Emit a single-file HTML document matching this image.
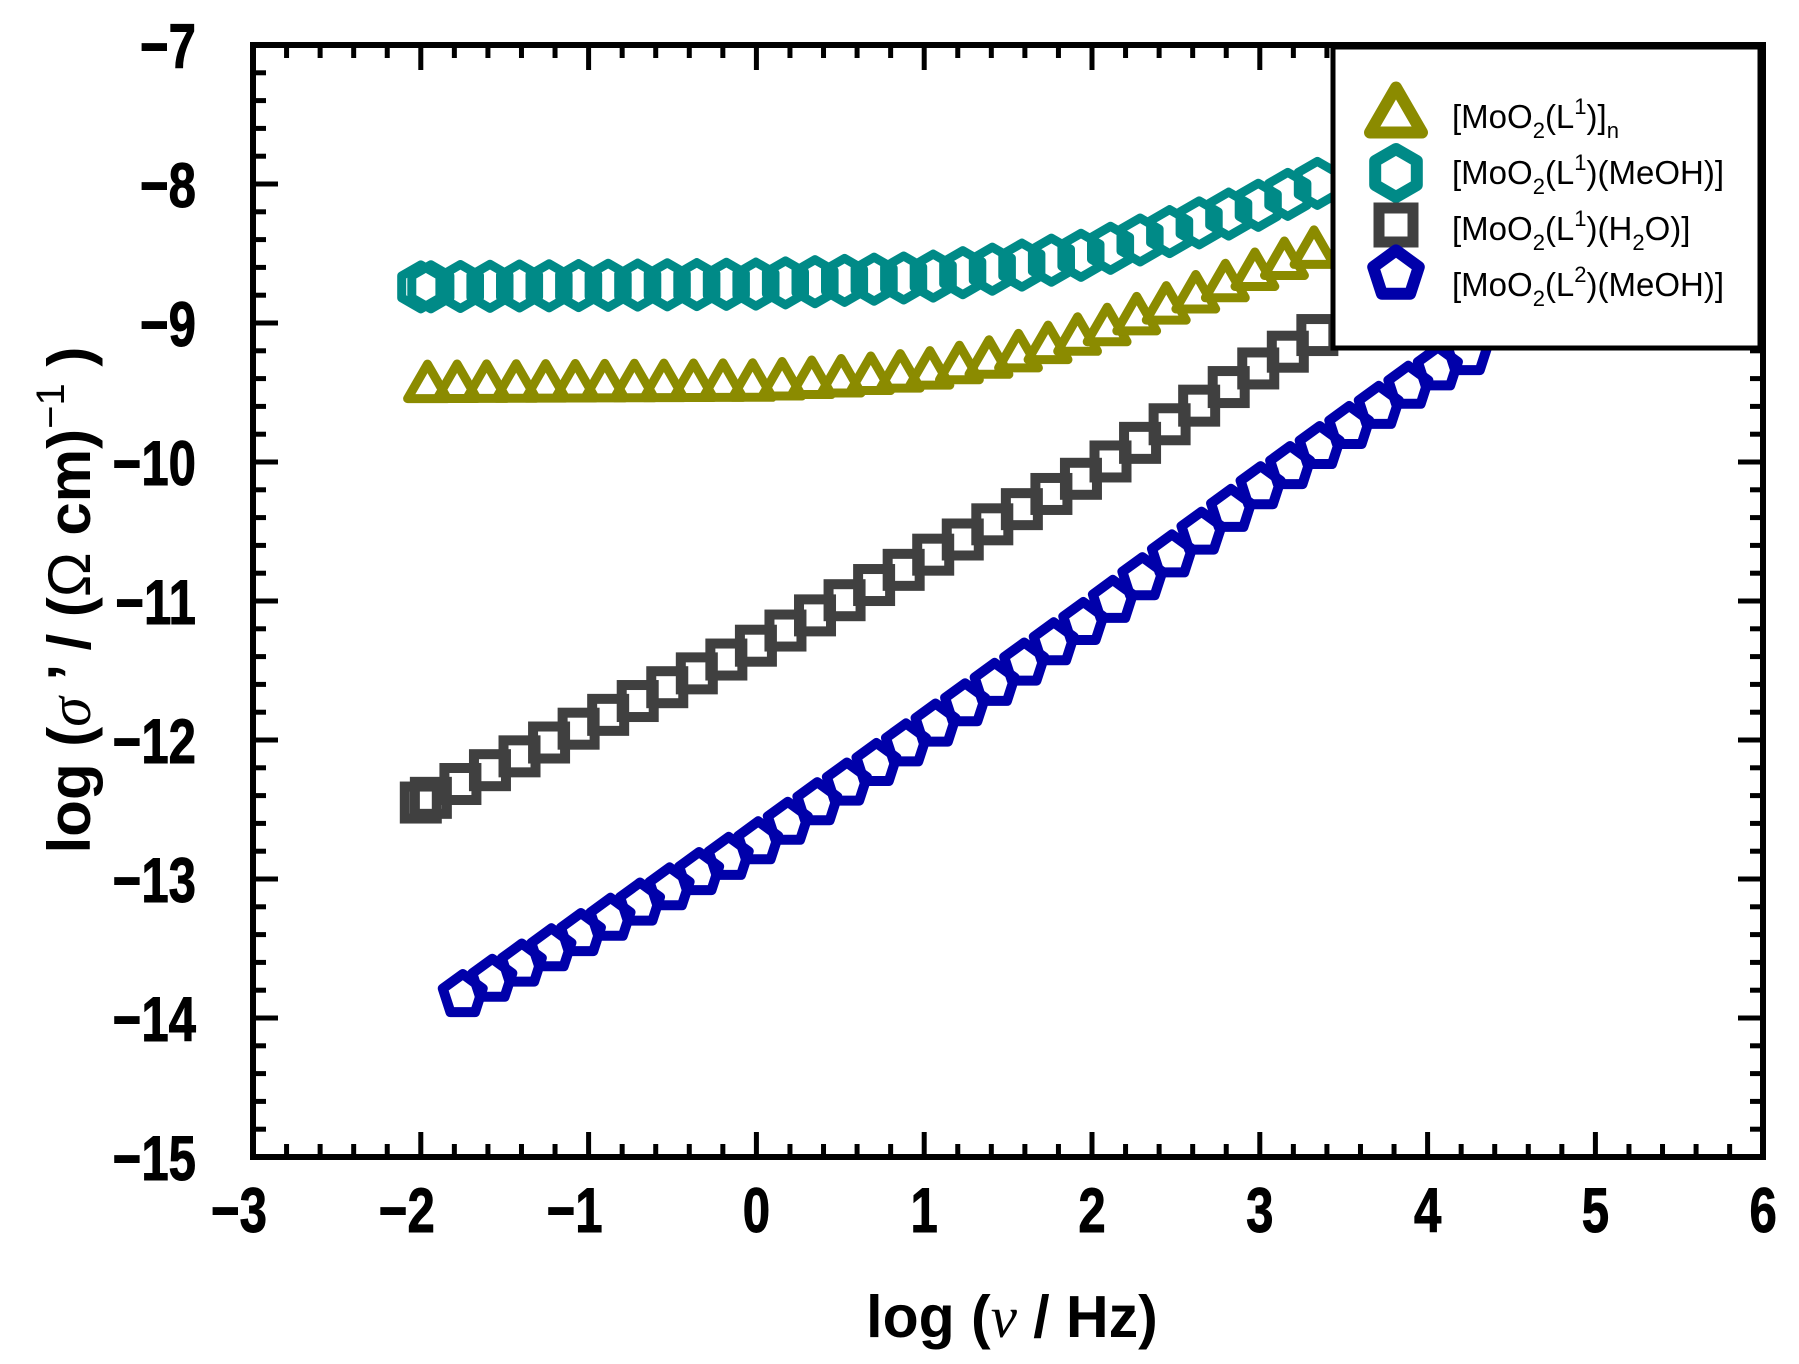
<!DOCTYPE html>
<html><head><meta charset="utf-8">
<style>
html,body{margin:0;padding:0;background:#fff;}
svg{display:block;}
text{font-family:"Liberation Sans",Arial,sans-serif;}
</style></head>
<body>
<svg id="s" width="1799" height="1364" viewBox="0 0 1799 1364" xmlns="http://www.w3.org/2000/svg">
<rect width="1799" height="1364" fill="#fff"/>
<g id="data"></g>
<g id="ticks" stroke="#000" stroke-width="5"></g>
<rect x="253" y="45" width="1510" height="1112" fill="none" stroke="#000" stroke-width="6"/>
<g id="labels" font-size="63" font-weight="bold" fill="#000" stroke="#000" stroke-width="1"></g>
<!-- legend -->
<rect x="1333" y="47" width="427" height="301" fill="#fff" stroke="#000" stroke-width="5"/>
<g id="leg"></g>
<g font-size="33" fill="#000">
<text x="1452" y="128">[MoO<tspan font-size="22" dy="10">2</tspan><tspan dy="-10">(L</tspan><tspan font-size="22" dy="-14">1</tspan><tspan dy="14">)]</tspan><tspan font-size="22" dy="10">n</tspan></text>
<text x="1452" y="184">[MoO<tspan font-size="22" dy="10">2</tspan><tspan dy="-10">(L</tspan><tspan font-size="22" dy="-14">1</tspan><tspan dy="14">)(MeOH)]</tspan></text>
<text x="1452" y="240">[MoO<tspan font-size="22" dy="10">2</tspan><tspan dy="-10">(L</tspan><tspan font-size="22" dy="-14">1</tspan><tspan dy="14">)(H</tspan><tspan font-size="22" dy="10">2</tspan><tspan dy="-10">O)]</tspan></text>
<text x="1452" y="296">[MoO<tspan font-size="22" dy="10">2</tspan><tspan dy="-10">(L</tspan><tspan font-size="22" dy="-14">2</tspan><tspan dy="14">)(MeOH)]</tspan></text>
</g>
<text x="1012" y="1337" font-size="59" font-weight="bold" text-anchor="middle">log (<tspan font-family="Liberation Serif" font-style="italic" font-weight="normal">ν</tspan> / Hz)</text>
<text transform="translate(90,600) rotate(-90)" font-size="60" font-weight="bold" text-anchor="middle">log (<tspan font-family="Liberation Serif" font-style="italic" font-weight="normal">σ</tspan> ’ / (<tspan font-weight="normal">Ω</tspan> cm)<tspan font-size="40" dy="-26" font-weight="normal">−1</tspan><tspan dy="26"> )</tspan></text>
</svg>
<script>
const NS="http://www.w3.org/2000/svg";
const X=v=>253+(v+3)*167.8, Y=v=>45+(-7-v)*139;
function el(p,tag,a){const e=document.createElementNS(NS,tag);for(const k in a)e.setAttribute(k,a[k]);p.appendChild(e);return e;}
const T=document.getElementById('ticks'),L=document.getElementById('labels');
for(let i=0;i<=45;i++){const v=-3+i*0.2,x=X(v),len=(i%5==0)?25:13;
 el(T,'line',{x1:x,y1:1157,x2:x,y2:1157-len});el(T,'line',{x1:x,y1:45,x2:x,y2:45+len});}
for(let i=0;i<=40;i++){const v=-7-i*0.2,y=Y(v),len=(i%5==0)?25:13;
 el(T,'line',{x1:253,y1:y,x2:253+len,y2:y});el(T,'line',{x1:1763,y1:y,x2:1763-len,y2:y});}
for(let v=-3;v<=6;v++){const t=el(L,'text',{transform:`translate(${X(v)+(v<0?14:0)},1232) scale(0.78,1)`,'text-anchor':v<0?'end':'middle'});t.textContent=(v<0?'−':'')+Math.abs(v);}
for(let v=-7;v>=-15;v--){const t=el(L,'text',{transform:`translate(196,${Y(v)+23}) scale(0.78,1)`,'text-anchor':'end'});t.textContent='−'+Math.abs(v);}
function interp(pts,v){for(let i=0;i<pts.length-1;i++){if(v<=pts[i+1][0]){const [a,b]=pts[i],[c,d]=pts[i+1];return b+(d-b)*(v-a)/(c-a);}}return pts[pts.length-1][1];}
function shape(g,type,cx,cy,r,col,sw){
 let pts=[];
 if(type=='sq'){el(g,'rect',{x:cx-r,y:cy-r,width:2*r,height:2*r,fill:'none',stroke:col,'stroke-width':sw});return;}
 let n=type=='tri'?3:type=='hex'?6:5;
 let dy=type=='tri'?r*0.25:(type=='pent'?r*0.1:0);
 for(let k=0;k<n;k++){const a=-Math.PI/2+k*2*Math.PI/n;pts.push((cx+r*Math.cos(a)).toFixed(1)+','+(cy+dy+r*Math.sin(a)).toFixed(1));}
 el(g,'polygon',{points:pts.join(' '),fill:'none',stroke:col,'stroke-width':sw,'stroke-linejoin':'round'});
}
const D=document.getElementById('data');
const series=[
 {t:'sq',c:'#404040',r:16,sw:10,start:-2,end:3.45,dup:true,p:[[-2,-12.45],[0,-11.32],[1,-10.7],[2,-10.08],[3,-9.32],[3.5,-8.98],[4,-8.7]]},
 {t:'pent',c:'#0000aa',r:21,sw:10,start:-1.75,end:4.3,p:[[-1.75,-13.82],[0,-12.73],[1,-11.93],[2,-11.1],[3,-10.17],[4,-9.35],[4.4,-9.1]]},
 {t:'tri',c:'#8b8b00',r:23,sw:9,start:-1.96,end:3.45,p:[[-2,-9.42],[0,-9.41],[0.5,-9.38],[1,-9.33],[1.5,-9.22],[2,-9.05],[2.5,-8.83],[3,-8.6],[3.4,-8.42],[4,-8.1]]},
 {t:'hex',c:'#008a87',r:22,sw:9,start:-2,end:3.45,dup:true,p:[[-2,-8.74],[0,-8.72],[1,-8.67],[1.5,-8.6],[2,-8.5],[2.5,-8.33],[3,-8.15],[3.4,-7.97],[4,-7.7]]}
];
for(const s of series){
 const vs=[];if(s.dup)vs.push(s.start);
 let v=s.dup?s.start+0.06:s.start;
 for(;v<=s.end;v+=0.1761)vs.push(v);
 for(const v of vs)shape(D,s.t,X(v),Y(interp(s.p,v)),s.r,s.c,s.sw);
}
const G=document.getElementById('leg');
shape(G,'tri',1396,110,30,'#8b8b00',12);
shape(G,'hex',1396,173,24,'#008a87',12);
shape(G,'sq',1396,225,17,'#404040',11);
shape(G,'pent',1396,272,24,'#0000aa',12);
</script>
</body></html>
